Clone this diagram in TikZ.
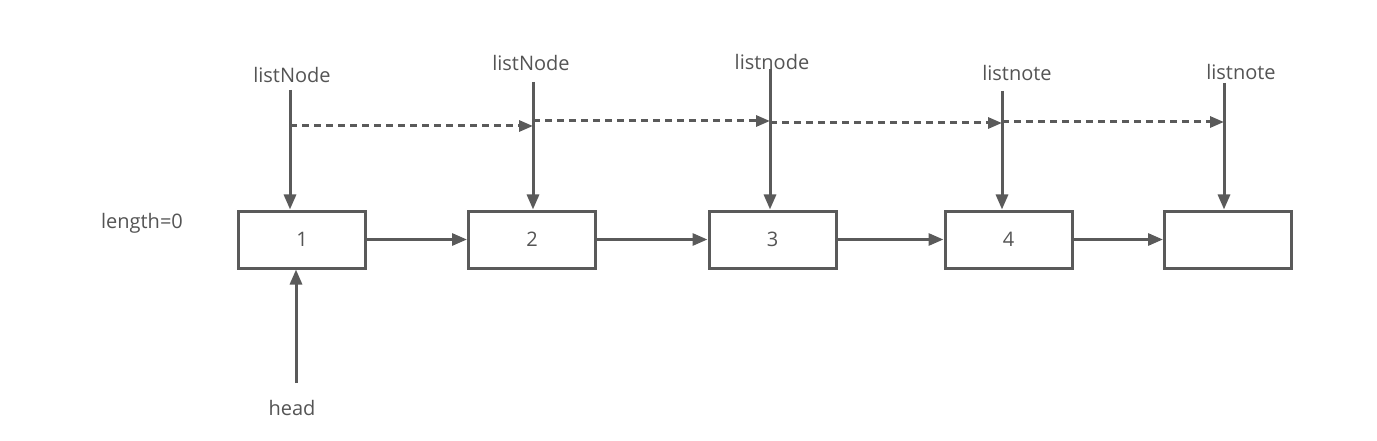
\documentclass[tikz,border=0pt]{standalone}
\usepackage{fontspec}
\setmainfont{Open Sans}
\usetikzlibrary{arrows.meta}
\definecolor{ln}{HTML}{5A5A5A}
\definecolor{tx}{HTML}{545454}
\tikzset{
  cell/.style={draw=ln, line width=3pt, fill=white, minimum width=127pt, minimum height=57pt, inner sep=0pt, text=tx, font=\fontsize{20}{23}\selectfont},
  lbl/.style={text=tx, font=\fontsize{20}{23}\selectfont, inner sep=0pt},
  link/.style={draw=ln, line width=3pt, -{Triangle[length=15pt,width=12pt]}},
  ptr/.style={draw=ln, line width=3pt, -{Triangle[length=15pt,width=12pt]}},
  walk/.style={draw=ln, line width=3pt, dash pattern=on 7pt off 5pt, -{Triangle[length=14pt,width=11pt]}}
}
\begin{document}
\begin{tikzpicture}[x=1pt,y=-1pt]
\useasboundingbox (0,0) rectangle (1377,441);
% boxes
\node[cell] (b1) at (302,239.5) {1};
\node[cell] (b2) at (532,239.5) {2};
\node[cell] (b3) at (772.5,239.5) {3};
\node[cell] (b4) at (1008.5,239.5) {4};
\node[cell] (b5) at (1228,239.5) {};
% labels
\node[lbl] (l1) at (292,75) {listNode};
\node[lbl] (l2) at (531,63) {listNode};
\node[lbl] (l3) at (772,62) {listnode};
\node[lbl] (l4) at (1017,73) {listnote};
\node[lbl] (l5) at (1241,72) {listnote};
\node[lbl] (len) at (142,223) {length=0};
\node[lbl] (hd) at (292,408) {head};
% pointer tops
\coordinate (t1) at (290,90);
\coordinate (t2) at (533,82);
\coordinate (t3) at (770,69);
\coordinate (t4) at (1002,91);
\coordinate (t5) at (1224,83);
\coordinate (h0) at (296,383);
% dashed walk points
\coordinate (d1) at (290,126);
\coordinate (e1) at (533,126);
\coordinate (d2) at (533,121);
\coordinate (e2) at (770,121);
\coordinate (d3) at (770,123);
\coordinate (e3) at (1002,123);
\coordinate (d4) at (1002,122);
\coordinate (e4) at (1224,122);
% links
\draw[link] (b1.east) -- (b2.west);
\draw[link] (b2.east) -- (b3.west);
\draw[link] (b3.east) -- (b4.west);
\draw[link] (b4.east) -- (b5.west);
% pointers
\draw[ptr] (t1) -- (t1 |- b1.north);
\draw[ptr] (t2) -- (t2 |- b2.north);
\draw[ptr] (t3) -- (t3 |- b3.north);
\draw[ptr] (t4) -- (t4 |- b4.north);
\draw[ptr] (t5) -- (t5 |- b5.north);
\draw[ptr] (h0) -- (h0 |- b1.south);
% dashed
\draw[walk] (d1) -- (e1);
\draw[walk] (d2) -- (e2);
\draw[walk] (d3) -- (e3);
\draw[walk] (d4) -- (e4);
\end{tikzpicture}
\end{document}
